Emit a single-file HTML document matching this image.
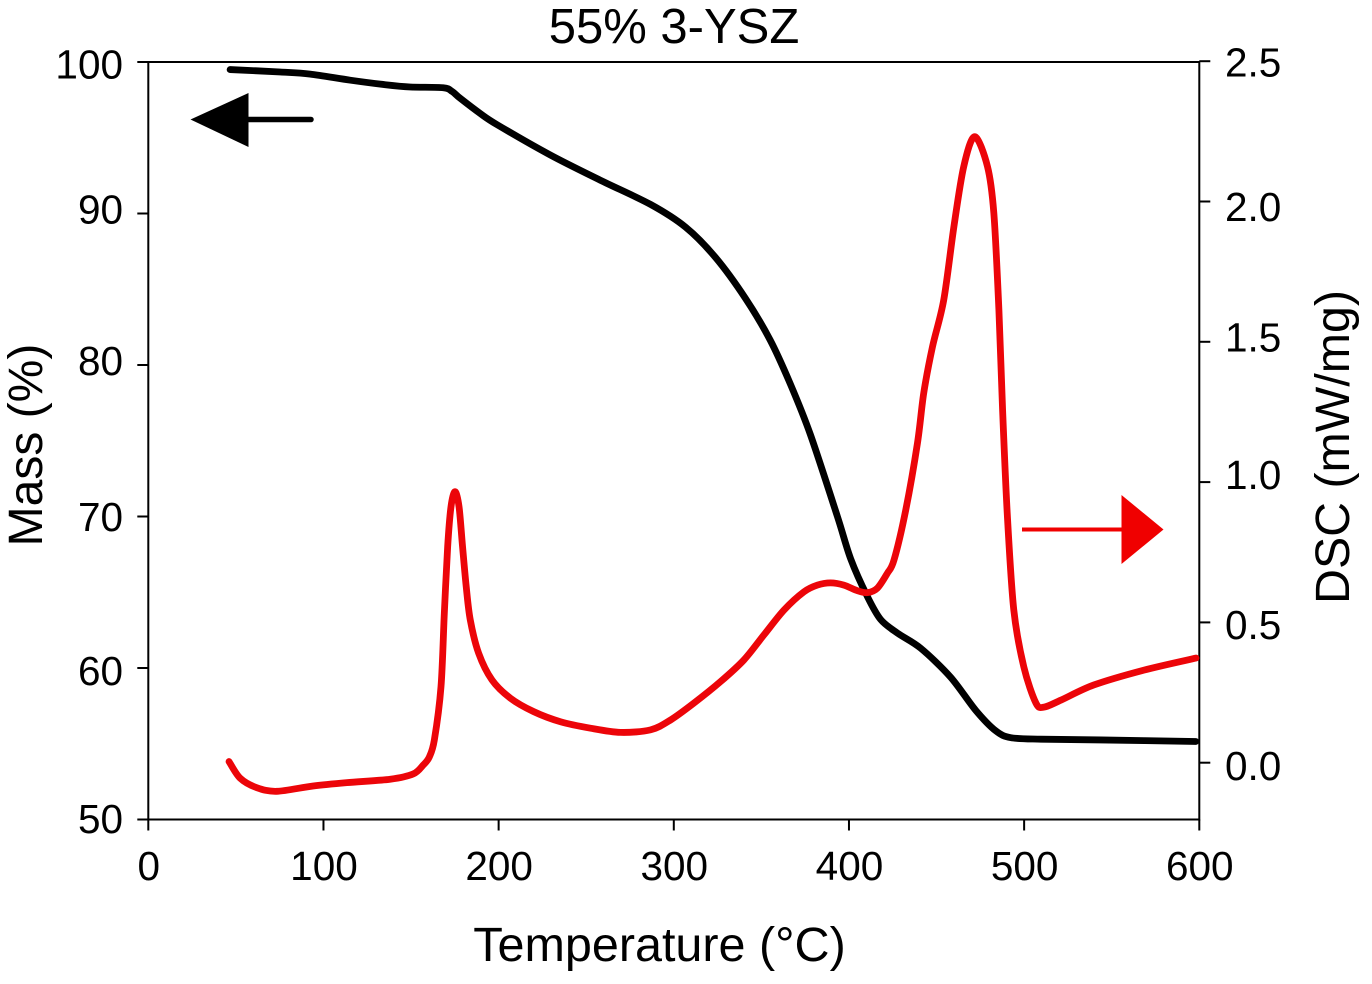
<!DOCTYPE html>
<html lang="en">
<head>
<meta charset="utf-8">
<title>55% 3-YSZ</title>
<style>
html,body{margin:0;padding:0;background:#fff;}
svg{display:block;font-family:"Liberation Sans",Arial,sans-serif;}
</style>
</head>
<body>
<svg id="chart" width="1372" height="984" viewBox="0 0 1372 984" xmlns="http://www.w3.org/2000/svg">
<text x="674" y="43" font-size="49" text-anchor="middle" fill="#000">55% 3-YSZ</text>
<text x="659.5" y="961" font-size="48.5" text-anchor="middle" fill="#000">Temperature (°C)</text>
<text transform="translate(42,445) rotate(-90)" font-size="48" text-anchor="middle" fill="#000">Mass (%)</text>
<text transform="translate(1349,447) rotate(-90)" font-size="48.3" text-anchor="middle" fill="#000">DSC (mW/mg)</text>
<g id="axes"></g>
<g id="series"></g>
<g>
<line x1="240" y1="119.5" x2="311" y2="119.5" stroke="#000" stroke-width="5.5" stroke-linecap="round"/>
<polygon points="190.5,119.5 248.5,93 248.5,147" fill="#000"/>
</g>
<g>
<line x1="1022" y1="529.5" x2="1130" y2="529.5" stroke="#f00000" stroke-width="4"/>
<polygon points="1163.5,529.5 1121.5,495 1121.5,564" fill="#f00000"/>
</g>
</svg>
<script>
const xTicks = [0, 100, 200, 300, 400, 500, 600];
const massTicks = [50, 60, 70, 80, 90, 100];
const dscTicks = ["0.0", "0.5", "1.0", "1.5", "2.0", "2.5"];

const massTemps = [46.7, 75.3, 92.4, 115.3, 135.3, 149.5, 168.4, 173.5, 178.1, 189.5, 199.3, 229.5, 258, 286.7, 306.7, 323.8, 340.9, 355, 366.7, 378, 393.4, 401, 410.5, 418.1, 427.7, 441, 458, 472.4, 483.8, 492.4, 509.5, 543.8, 598];
const massValues = [99.5, 99.34, 99.2, 98.8, 98.5, 98.35, 98.3, 98.05, 97.6, 96.6, 95.85, 93.86, 92.2, 90.6, 89.1, 87.1, 84.4, 81.65, 78.7, 75.4, 70.0, 67.2, 64.72, 63.2, 62.3, 61.3, 59.4, 57.2, 55.85, 55.4, 55.3, 55.25, 55.15];

const dscTemps = [46.1, 52.4, 61.9, 73.4, 94.1, 113.4, 138.1, 151.3, 157, 160.4, 163.3, 167.1, 169, 170.9, 172.8, 175.1, 177.4, 179.4, 181.5, 183.8, 188.6, 196.2, 206.7, 220, 235.3, 252.4, 269.5, 286.7, 298.1, 311.4, 326.7, 340, 351.4, 362.9, 374.3, 382, 389.5, 397.1, 404.8, 410.5, 416.2, 421.9, 425.7, 432.4, 439.1, 442.7, 447.7, 454.1, 459.9, 465.5, 471.8, 479.1, 482.7, 485.6, 487.7, 490.4, 494.1, 499.8, 506.7, 511.3, 521, 539.8, 568.4, 598.1];
const dscValues = [0.004, -0.055, -0.089, -0.102, -0.083, -0.071, -0.059, -0.040, -0.008, 0.02, 0.081, 0.271, 0.533, 0.770, 0.912, 0.966, 0.912, 0.770, 0.627, 0.509, 0.390, 0.295, 0.230, 0.182, 0.146, 0.123, 0.108, 0.117, 0.152, 0.212, 0.289, 0.366, 0.455, 0.544, 0.609, 0.633, 0.641, 0.633, 0.613, 0.606, 0.622, 0.675, 0.722, 0.900, 1.139, 1.318, 1.483, 1.649, 1.910, 2.124, 2.231, 2.124, 1.959, 1.613, 1.257, 0.883, 0.544, 0.342, 0.213, 0.198, 0.223, 0.277, 0.330, 0.373];

const plotLeft = 148.3, plotRight = 1199.3, plotTop = 62, plotBottom = 819.5;
const NS = "http://www.w3.org/2000/svg";
function xScale(t) { return plotLeft + (t - 0) / 600 * (plotRight - plotLeft); }
function massScale(m) { return plotBottom - (m - 50) / 50 * (plotBottom - plotTop); }
function dscScale(d) { return 762.7 - d * 280.6; }
function massLabelShift(m) {
  const shifts = { 100: 16.7, 90: 10, 80: 10, 70: 14.7, 60: 17, 50: 13.5 };
  return shifts[m] === undefined ? 14 : shifts[m];
}
function dscLabelShift(d) {
  const shifts = { "2.5": 15.5, "2.0": 19.7, "1.5": 9.7, "1.0": 6.7, "0.5": 16.7, "0.0": 17.5 };
  return shifts[d] === undefined ? 14 : shifts[d];
}

function smoothPath(xs, ys) {
  const p = xs.map(function (x, i) { return [xScale(x), ys[i]]; });
  let d = "M" + p[0][0].toFixed(2) + " " + p[0][1].toFixed(2);
  for (let i = 0; i < p.length - 1; i++) {
    const a = p[Math.max(i - 1, 0)], b = p[i], c = p[i + 1], e = p[Math.min(i + 2, p.length - 1)];
    const k = 6.5;
    d += "C" + (b[0] + (c[0] - a[0]) / k).toFixed(2) + " " + (b[1] + (c[1] - a[1]) / k).toFixed(2) + " " +
      (c[0] - (e[0] - b[0]) / k).toFixed(2) + " " + (c[1] - (e[1] - b[1]) / k).toFixed(2) + " " +
      c[0].toFixed(2) + " " + c[1].toFixed(2);
  }
  return d;
}

const axes = document.getElementById("axes");
const series = document.getElementById("series");

const frame = document.createElementNS(NS, "rect");


frame.setAttribute("x", plotLeft);
frame.setAttribute("y", plotTop);
frame.setAttribute("width", plotRight - plotLeft);
frame.setAttribute("height", plotBottom - plotTop);
frame.setAttribute("fill", "none");
frame.setAttribute("stroke", "#000");
frame.setAttribute("stroke-width", "2");
axes.appendChild(frame);

xTicks.forEach(function (t) {
  const tick = document.createElementNS(NS, "line");
  
  
  tick.setAttribute("x1", xScale(t));
  tick.setAttribute("x2", xScale(t));
  tick.setAttribute("y1", plotBottom);
  tick.setAttribute("y2", plotBottom + 11);
  tick.setAttribute("stroke", "#000");
  tick.setAttribute("stroke-width", "2");
  axes.appendChild(tick);
  const label = document.createElementNS(NS, "text");
  
  
  label.setAttribute("x", xScale(t) + 0.5);
  label.setAttribute("y", 880);
  label.setAttribute("font-size", "40.5");
  label.setAttribute("text-anchor", "middle");
  label.textContent = t;
  axes.appendChild(label);
});

massTicks.forEach(function (m) {
  const tick = document.createElementNS(NS, "line");
  
  
  tick.setAttribute("x1", plotLeft - 11);
  tick.setAttribute("x2", plotLeft);
  tick.setAttribute("y1", massScale(m));
  tick.setAttribute("y2", massScale(m));
  tick.setAttribute("stroke", "#000");
  tick.setAttribute("stroke-width", "2");
  axes.appendChild(tick);
  const label = document.createElementNS(NS, "text");
  
  
  label.setAttribute("x", 123);
  label.setAttribute("y", massScale(m) + massLabelShift(m));
  label.setAttribute("font-size", "40.5");
  label.setAttribute("text-anchor", "end");
  label.textContent = m;
  axes.appendChild(label);
});

dscTicks.forEach(function (d) {
  const tick = document.createElementNS(NS, "line");
  
  
  tick.setAttribute("x1", plotRight);
  tick.setAttribute("x2", plotRight + 11);
  tick.setAttribute("y1", dscScale(parseFloat(d)));
  tick.setAttribute("y2", dscScale(parseFloat(d)));
  tick.setAttribute("stroke", "#000");
  tick.setAttribute("stroke-width", "2");
  axes.appendChild(tick);
  const label = document.createElementNS(NS, "text");
  
  
  label.setAttribute("x", 1225);
  label.setAttribute("y", dscScale(parseFloat(d)) + dscLabelShift(d));
  label.setAttribute("font-size", "40.5");
  label.setAttribute("text-anchor", "start");
  label.textContent = d;
  axes.appendChild(label);
});

const massLine = document.createElementNS(NS, "path");


massLine.setAttribute("d", smoothPath(massTemps, massValues.map(massScale)));
massLine.setAttribute("fill", "none");
massLine.setAttribute("stroke", "#000");
massLine.setAttribute("stroke-width", "6.8");
massLine.setAttribute("stroke-linecap", "round");
massLine.setAttribute("stroke-linejoin", "round");
series.appendChild(massLine);

const dscLine = document.createElementNS(NS, "path");


dscLine.setAttribute("d", smoothPath(dscTemps, dscValues.map(dscScale)));
dscLine.setAttribute("fill", "none");
dscLine.setAttribute("stroke", "#ec0509");
dscLine.setAttribute("stroke-width", "6.8");
dscLine.setAttribute("stroke-linecap", "round");
dscLine.setAttribute("stroke-linejoin", "round");
series.appendChild(dscLine);
</script>
</body>
</html>
